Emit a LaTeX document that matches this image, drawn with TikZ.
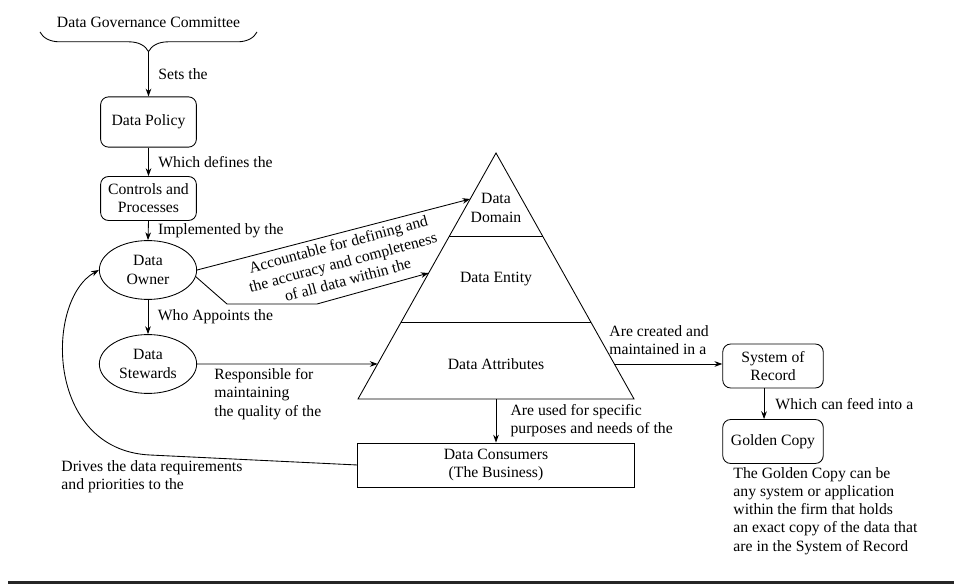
\documentclass[tikz,border=0pt]{standalone}
\usepackage{fontspec}
\setmainfont{Liberation Serif}
\usetikzlibrary{positioning,arrows.meta,shapes.geometric,decorations.pathreplacing,calc}

\begin{document}
\begin{tikzpicture}[x=0.637pt, y=-0.637pt, line width=0.55pt,
    font=\fontsize{10}{11.6}\selectfont,
    rbox/.style={draw, rounded corners=5pt, minimum width=61pt,
        minimum height=28pt, align=center, inner sep=2pt},
    oval/.style={draw, ellipse, minimum width=62pt, minimum height=37.5pt,
        align=center, inner sep=0pt},
    flat/.style={draw, minimum width=176pt, minimum height=28pt, align=center},
    lbl/.style={anchor=west, inner sep=0pt, align=left},
    arr/.style={-{Stealth[length=5pt, width=3.6pt]}},
]
\useasboundingbox (0,0) rectangle (954,584);

% Committee and brace
\node (gov) at (148.5,22) {Data Governance Committee};
\draw[decorate, decoration={brace, mirror, amplitude=12.5pt}] (40,32) -- (257,32);
\coordinate (govtip) at (148.5,52);

% Left column
\node[rbox, minimum height=32pt] (policy) at (148.5,122) {Data Policy};
\node[rbox] (ctrl) at (148.5,198.5) {Controls and\\Processes};
\node[oval] (owner) at (148,270) {Data\\Owner};
\node[oval] (stew) at (148,364) {Data\\Stewards};

\draw[arr] (govtip) -- node[lbl, right=6pt] {Sets the} (policy.north);
\draw[arr] (policy.south) -- node[lbl, right=6pt] {Which defines the} (ctrl.north);
\draw[arr] (ctrl.south) -- node[lbl, right=6pt] {Implemented by the} (owner.north);
\draw[arr] (owner.south) -- node[lbl, right=6pt] {Who Appoints the} (stew.north);

% Pyramid
\coordinate (apex) at (496,153);
\coordinate (baseL) at (358,399);
\coordinate (baseR) at (634,399);
\draw (apex) -- (baseL) -- (baseR) -- cycle;
\draw ($(apex)!0.3374!(baseL)$) -- ($(apex)!0.3374!(baseR)$);
\draw ($(apex)!0.687!(baseL)$) -- ($(apex)!0.687!(baseR)$);
\node[align=center] (dom) at (496,208) {Data\\Domain};
\node (ent) at (496,279) {Data Entity};
\node (attr) at (496,364) {Data Attributes};

\coordinate (domL) at ($(apex)!0.187!(baseL)$);
\coordinate (entL) at ($(apex)!0.488!(baseL)$);
\coordinate (attrL) at ($(apex)!0.8577!(baseL)$);
\coordinate (attrR) at ($(apex)!0.8577!(baseR)$);
\coordinate (baseM) at ($(baseL)!0.5!(baseR)$);

% Right column
\node[rbox, minimum width=64pt] (sor) at (773,366) {System of\\Record};
\node[rbox, minimum width=64pt] (gc) at (773,441.5) {Golden Copy};
\node[flat] (cons) at (496,465) {Data Consumers\\(The Business)};

% Connectors
\draw[arr] (owner.east) -- (domL);
\draw[arr] (owner.-8) -- (227,304) -- (317,304) -- (entL);
\node[rotate=15, align=center, inner sep=0pt] (acct) at (343,262)
    {Accountable for defining and\\the accuracy and completeness\\of all data within the};
\draw[arr] (stew.east) -- (attrL);
\node[lbl] (resp) at (214,394) {Responsible for\\maintaining\\the quality of the};
\draw[arr] (attrR) -- (attrR -| sor.west);
\node[lbl] (made) at (609,340) {Are created and\\maintained in a};
\draw[arr] (baseM) -- node[lbl, right=9pt] {Are used for specific\\purposes and needs of the} (cons.north);
\draw[arr] ([xshift=-5.7pt]sor.south) -- node[lbl, right=7pt] {Which can feed into a} ([xshift=-5.7pt]gc.north);
\draw[arr] (cons.west) -- (150,455) .. controls (45,450) and (45,300) .. (owner.west);
\node[lbl] (drives) at (61,477) {Drives the data requirements\\and priorities to the};
\node[lbl] (gcnote) at (733,511) {The Golden Copy can be\\any system or application\\within the firm that holds\\an exact copy of the data that\\are in the System of Record};

% Bottom rule
\draw[line width=1.6pt, black!85] (8,582.7) -- (954,582.7);
\end{tikzpicture}
\end{document}
